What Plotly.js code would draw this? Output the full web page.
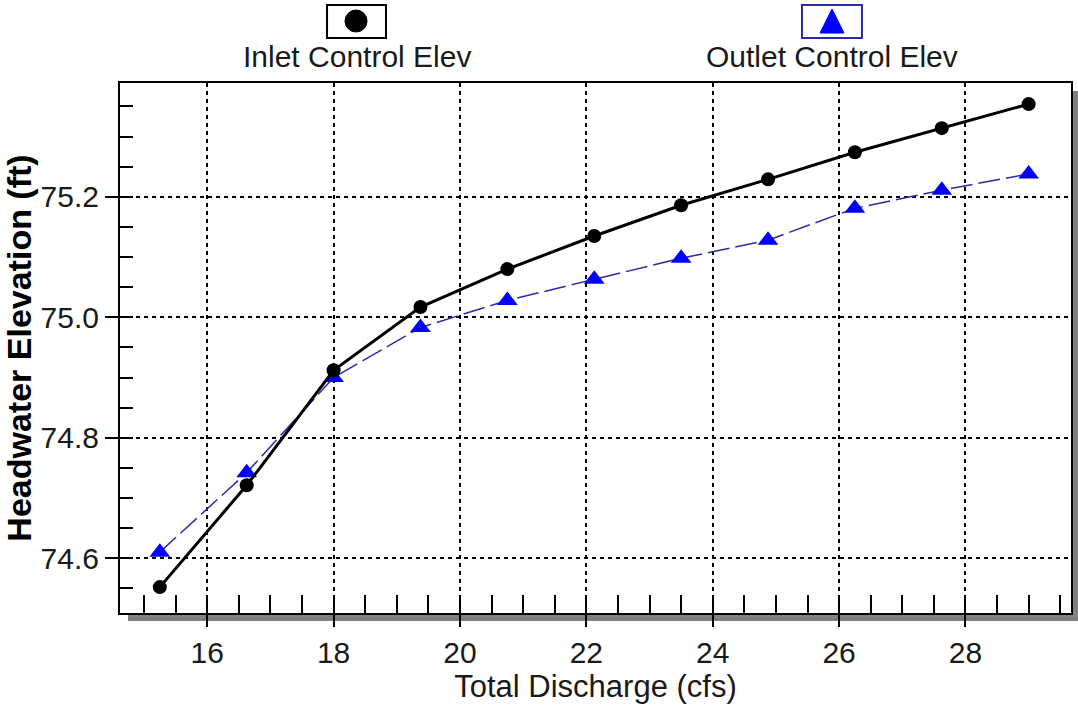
<!DOCTYPE html>
<html>
<head>
<meta charset="utf-8">
<script src="https://cdn.plot.ly/plotly-3.0.1.min.js"></script>
<style>html,body{margin:0;padding:0;background:#fff;}#chart{width:1078px;height:707px;}</style>
</head>
<body>
<div id="chart"></div>
<script>
// Data
const discharge = [15.25, 16.625, 18.0, 19.375, 20.75, 22.125, 23.5, 24.875, 26.25, 27.625, 29.0];
const inletElev = [74.552, 74.721, 74.912, 75.017, 75.080, 75.135, 75.186, 75.229, 75.274, 75.314, 75.354];
const outletElev = [74.610, 74.742, 74.900, 74.983, 75.028, 75.063, 75.098, 75.128, 75.181, 75.211, 75.238];
const seriesNames = ["Inlet Control Elev", "Outlet Control Elev"];
const xTickVals = [16, 18, 20, 22, 24, 26, 28];
const yTickVals = [74.6, 74.8, 75.0, 75.2];
const yTickText = ["74.6", "74.8", "75.0", "75.2"];

const FONT = "Liberation Sans, Arial, sans-serif";

const traces = [
  {
    x: discharge, y: outletElev, name: seriesNames[1], type: "scatter", mode: "lines+markers",
    line: {color: "#2b2ba6", width: 1.5, dash: "22px,6px"},
    marker: {symbol: "triangle-up", size: 18, color: "#0000ff"}
  },
  {
    x: discharge, y: inletElev, name: seriesNames[0], type: "scatter", mode: "lines+markers",
    line: {color: "#000000", width: 3},
    marker: {symbol: "circle", size: 14, color: "#000000"}
  }
];

const layout = {
  width: 1078, height: 707,
  margin: {l: 120, r: 7, t: 83, b: 94, pad: 0},
  paper_bgcolor: "#ffffff", plot_bgcolor: "#ffffff",
  showlegend: false,
  font: {family: FONT, size: 30, color: "#1a1a1a"},
  xaxis: {
    range: [14.62, 29.67], showline: true, linecolor: "#000", linewidth: 2, mirror: true,
    tickmode: "array", tickvals: xTickVals, ticks: "outside", ticklen: 12, tickwidth: 2, tickcolor: "#000",
    showgrid: true, gridcolor: "#000", gridwidth: 2, griddash: "4px,4px",
    minor: {dtick: 0.5, tick0: 0, ticks: "inside", ticklen: 18, tickwidth: 2, tickcolor: "#000", showgrid: false},
    zeroline: false, tickfont: {size: 30, family: FONT},
    title: {text: "Total Discharge (cfs)", font: {size: 31, family: FONT}, standoff: 6}
  },
  yaxis: {
    range: [74.509, 75.389], showline: true, linecolor: "#000", linewidth: 2, mirror: true,
    tickmode: "array", tickvals: yTickVals, ticktext: yTickText, ticks: "outside", ticklen: 13, tickwidth: 2, tickcolor: "#000",
    showgrid: true, gridcolor: "#000", gridwidth: 2, griddash: "4px,4px",
    minor: {dtick: 0.05, tick0: 0, ticks: "inside", ticklen: 13, tickwidth: 2, tickcolor: "#000", showgrid: false},
    zeroline: false, tickfont: {size: 30, family: FONT},
    title: {text: "<b>Headwater Elevation (ft)</b>", font: {size: 34, family: FONT, color: "#000"}, standoff: 4}
  },
  shapes: [
    // drop shadow right
    {type: "rect", xref: "paper", yref: "paper", xsizemode: "pixel", xanchor: 1, x0: 1, x1: 8,
     ysizemode: "pixel", yanchor: 0, y0: -7, y1: 522, fillcolor: "#808080", line: {width: 0}, layer: "below"},
    // drop shadow bottom
    {type: "rect", xref: "paper", yref: "paper", xsizemode: "pixel", xanchor: 0, x0: 8, x1: 958,
     ysizemode: "pixel", yanchor: 0, y0: -8, y1: -1, fillcolor: "#808080", line: {width: 0}, layer: "below"},
    // legend boxes
    {type: "rect", xref: "paper", yref: "paper", x0: 0.2177, x1: 0.2797, y0: 1.0849, y1: 1.1472,
     line: {color: "#000", width: 2}, fillcolor: "rgba(0,0,0,0)"},
    {type: "rect", xref: "paper", yref: "paper", x0: 0.7171, x1: 0.7802, y0: 1.0849, y1: 1.1472,
     line: {color: "#2b2ba6", width: 2}, fillcolor: "rgba(0,0,0,0)"},
    // legend symbols
    {type: "circle", xref: "paper", yref: "paper", x0: 0.2366, x1: 0.2598, y0: 1.0962, y1: 1.1377,
     line: {color: "#000", width: 1}, fillcolor: "#000"},
    {type: "path", xref: "paper", yref: "paper", path: "M 0.7487 1.1396 L 0.7613 1.0943 L 0.7361 1.0943 Z",
     line: {color: "#0000ff", width: 1}, fillcolor: "#0000ff"}
  ],
  annotations: [
    {xref: "paper", yref: "paper", x: 0.2492, y: 1.05, xanchor: "center", yanchor: "middle", showarrow: false,
     text: seriesNames[0], font: {size: 30, family: FONT, color: "#1a1a1a"}},
    {xref: "paper", yref: "paper", x: 0.7487, y: 1.05, xanchor: "center", yanchor: "middle", showarrow: false,
     text: seriesNames[1], font: {size: 30, family: FONT, color: "#1a1a1a"}}
  ]
};

Plotly.newPlot("chart", traces, layout, {displayModeBar: false, staticPlot: true});
</script>
</body>
</html>
